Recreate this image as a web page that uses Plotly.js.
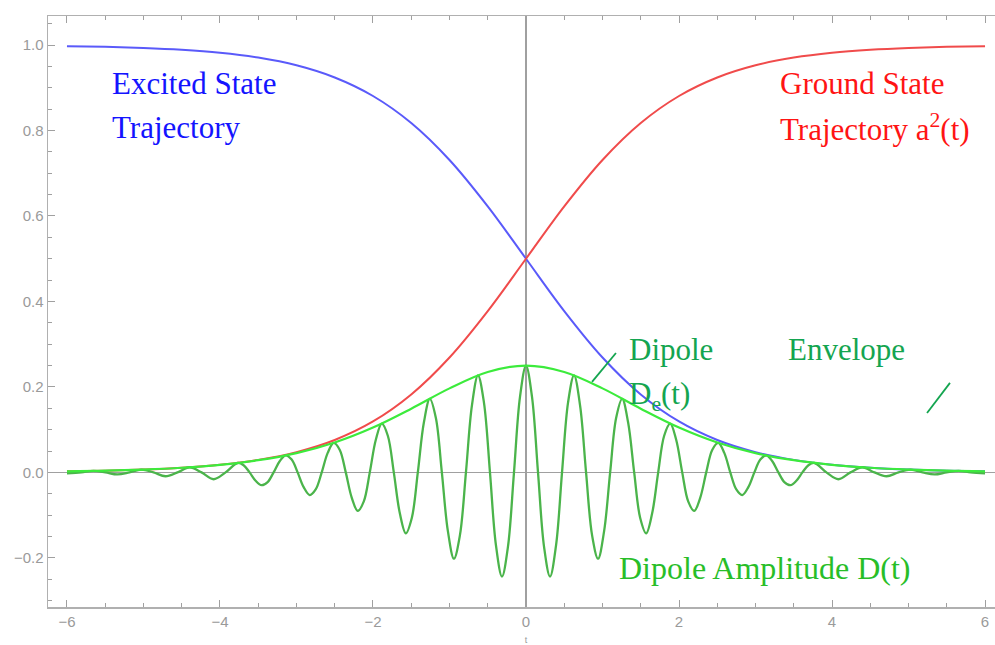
<!DOCTYPE html>
<html>
<head>
<meta charset="utf-8">
<script src="https://cdn.plot.ly/plotly-3.0.1.min.js"></script>
<style>
html, body { margin: 0; padding: 0; overflow: hidden; background: #fff; }
#chart { width: 1010px; height: 645px; }
</style>
</head>
<body>
<div id="chart"></div>
<script>
// time samples for the smooth trajectories
const tSmooth = [-6, -5.5, -5, -4.5, -4, -3.5, -3, -2.5, -2, -1.5, -1, -0.5, 0, 0.5, 1, 1.5, 2, 2.5, 3, 3.5, 4, 4.5, 5, 5.5, 6];
// ground state a^2(t) (red)
const groundState = [0.0025, 0.0041, 0.0067, 0.011, 0.018, 0.0293, 0.0474, 0.0759, 0.1192, 0.1824, 0.2689, 0.3775, 0.5, 0.6225, 0.7311, 0.8176, 0.8808, 0.9241, 0.9526, 0.9707, 0.982, 0.989, 0.9933, 0.9959, 0.9975];
// excited state trajectory (blue)
const excitedState = [0.9975, 0.9959, 0.9933, 0.989, 0.982, 0.9707, 0.9526, 0.9241, 0.8808, 0.8176, 0.7311, 0.6225, 0.5, 0.3775, 0.2689, 0.1824, 0.1192, 0.0759, 0.0474, 0.0293, 0.018, 0.011, 0.0067, 0.0041, 0.0025];
// dipole envelope De(t) (bright green)
const envelope = [0.0025, 0.004, 0.0067, 0.0109, 0.0177, 0.0285, 0.0452, 0.0701, 0.105, 0.1491, 0.1966, 0.235, 0.25, 0.235, 0.1966, 0.1491, 0.105, 0.0701, 0.0452, 0.0285, 0.0177, 0.0109, 0.0067, 0.004, 0.0025];

// dipole amplitude D(t) (extrema, zero crossings and mid points)
const tDipole = [
  -6.0, -5.812, -5.655, -5.498, -5.341, -5.184, -5.027, -4.869, -4.712, -4.555, -4.398, -4.241, -4.084, -3.927,
  -3.770, -3.691, -3.613, -3.534, -3.456, -3.377, -3.299, -3.220, -3.142, -3.063, -2.985, -2.906, -2.827, -2.749, -2.670, -2.592,
  -2.513, -2.434, -2.356, -2.277, -2.199, -2.120, -2.042, -1.963, -1.885, -1.806, -1.728, -1.649, -1.571, -1.492, -1.414, -1.335,
  -1.257, -1.178, -1.100, -1.021, -0.942, -0.864, -0.785, -0.707, -0.628, -0.550, -0.471, -0.393, -0.314, -0.236, -0.157, -0.0785,
  0,
  0.0785, 0.157, 0.236, 0.314, 0.393, 0.471, 0.550, 0.628, 0.707, 0.785, 0.864, 0.942, 1.021, 1.100, 1.178, 1.257,
  1.335, 1.414, 1.492, 1.571, 1.649, 1.728, 1.806, 1.885, 1.963, 2.042, 2.120, 2.199, 2.277, 2.356, 2.434, 2.513,
  2.592, 2.670, 2.749, 2.827, 2.906, 2.985, 3.063, 3.142, 3.220, 3.299, 3.377, 3.456, 3.534, 3.613, 3.691, 3.770,
  3.927, 4.084, 4.241, 4.398, 4.555, 4.712, 4.869, 5.027, 5.184, 5.341, 5.498, 5.655, 5.812, 6.0];
const dipole = [
  -0.0025, 0, 0.0035, 0, -0.0048, 0, 0.0065, 0, -0.009, 0, 0.012, 0, -0.016, 0,
  0.022, 0.0168, 0, -0.0195, -0.030, -0.0226, 0, 0.0261, 0.040, 0.0300, 0, -0.0346, -0.053, -0.0399, 0, 0.0457,
  0.069, 0.0524, 0, -0.0596, -0.090, -0.0677, 0, 0.0764, 0.114, 0.0857, 0, -0.0957, -0.1425, -0.1060, 0, 0.1166,
  0.172, 0.1272, 0, -0.1376, -0.202, -0.1475, 0, 0.1564, 0.227, 0.1640, 0, -0.1701, -0.244, -0.1743, 0, 0.1765,
  0.25,
  0.1765, 0, -0.1743, -0.244, -0.1701, 0, 0.1640, 0.227, 0.1564, 0, -0.1475, -0.202, -0.1376, 0, 0.1272, 0.172,
  0.1166, 0, -0.1060, -0.1425, -0.0957, 0, 0.0857, 0.114, 0.0764, 0, -0.0677, -0.090, -0.0596, 0, 0.0524, 0.069,
  0.0457, 0, -0.0399, -0.053, -0.0346, 0, 0.0300, 0.040, 0.0261, 0, -0.0226, -0.030, -0.0195, 0, 0.0168, 0.022,
  0, -0.016, 0, 0.012, 0, -0.009, 0, 0.0065, 0, -0.0048, 0, 0.0035, 0, -0.0025];

const xTicks = [-6, -4, -2, 0, 2, 4, 6];
const yTicks = [-0.2, 0, 0.2, 0.4, 0.6, 0.8, 1.0];

const traces = [
  { x: tSmooth, y: excitedState, mode: 'lines', line: { color: 'rgb(90,90,250)', width: 2, shape: 'spline' } },
  { x: tSmooth, y: groundState, mode: 'lines', line: { color: 'rgb(240,75,75)', width: 2, shape: 'spline' } },
  { x: tDipole, y: dipole, mode: 'lines', line: { color: 'rgb(75,180,75)', width: 2.3, shape: 'spline', smoothing: 1 } },
  { x: tSmooth, y: envelope, mode: 'lines', line: { color: 'rgb(60,235,60)', width: 2.2, shape: 'spline' } }
];

const axisCommon = {
  showgrid: false,
  showline: true,
  linecolor: '#b0b0b0',
  linewidth: 1.5,
  mirror: 'ticks',
  ticks: 'inside',
  ticklen: 7,
  tickwidth: 1,
  tickcolor: '#a0a0a0',
  tickfont: { family: 'Liberation Sans, Arial, sans-serif', size: 15, color: '#9a9a9a' },
  zeroline: true,
  zerolinecolor: '#a0a0a0',
  zerolinewidth: 1.5,
  fixedrange: true
};

const serif = 'Liberation Serif, Times New Roman, serif';
function note(text, x, y, color, size) {
  return { text: text, x: x, y: y, xref: 'x', yref: 'y', xanchor: 'left', yanchor: 'middle', showarrow: false,
           font: { family: serif, size: size || 31, color: color } };
}

const layout = {
  width: 1010,
  height: 645,
  margin: { l: 48, r: 6, t: 16, b: 38 },
  paper_bgcolor: '#fff',
  plot_bgcolor: '#fff',
  showlegend: false,
  hovermode: false,
  xaxis: Object.assign({}, axisCommon, {
    range: [-6.248, 6.248],
    tickmode: 'array', tickvals: xTicks, ticktext: xTicks.map(v => v < 0 ? '\u2212' + Math.abs(v) : String(v)),
    minor: { dtick: 0.5, tick0: 0, ticks: 'inside', ticklen: 4, tickcolor: '#a0a0a0', showgrid: false },
    title: { text: 't', font: { family: 'Liberation Sans, sans-serif', size: 9, color: '#999' }, standoff: 8 }
  }),
  yaxis: Object.assign({}, axisCommon, {
    range: [-0.315, 1.068],
    tickmode: 'array', tickvals: yTicks, ticktext: yTicks.map(v => v < 0 ? '\u2212' + Math.abs(v).toFixed(1) : v.toFixed(1)),
    minor: { dtick: 0.05, tick0: 0, ticks: 'inside', ticklen: 4, tickcolor: '#a0a0a0', showgrid: false }
  }),
  annotations: [
    note('Excited State', -5.44, 0.911, 'rgb(20,20,255)'),
    note('Trajectory', -5.44, 0.806, 'rgb(20,20,255)'),
    note('Ground State', 3.294, 0.911, 'rgb(255,20,20)'),
    note('Trajectory a<sup>2</sup>(t)', 3.294, 0.806, 'rgb(255,20,20)'),
    note('Dipole', 1.32, 0.2866, 'rgb(20,165,80)'),
    note('Envelope', 3.399, 0.2866, 'rgb(20,165,80)'),
    note('D<sub>e</sub>(t)', 1.32, 0.179, 'rgb(20,165,80)'),
    note('Dipole Amplitude D(t)', 1.19, -0.2234, 'rgb(40,190,40)', 32)
  ],
  shapes: [
    { type: 'line', xref: 'x', yref: 'y', x0: 0.863, y0: 0.2117, x1: 1.176, y1: 0.2795, line: { color: 'rgb(20,165,80)', width: 1.8 } },
    { type: 'line', xref: 'x', yref: 'y', x0: 5.242, y0: 0.139, x1: 5.542, y1: 0.2094, line: { color: 'rgb(20,165,80)', width: 1.8 } }
  ]
};

Plotly.newPlot('chart', traces, layout, { displayModeBar: false, staticPlot: true });
</script>
</body>
</html>
